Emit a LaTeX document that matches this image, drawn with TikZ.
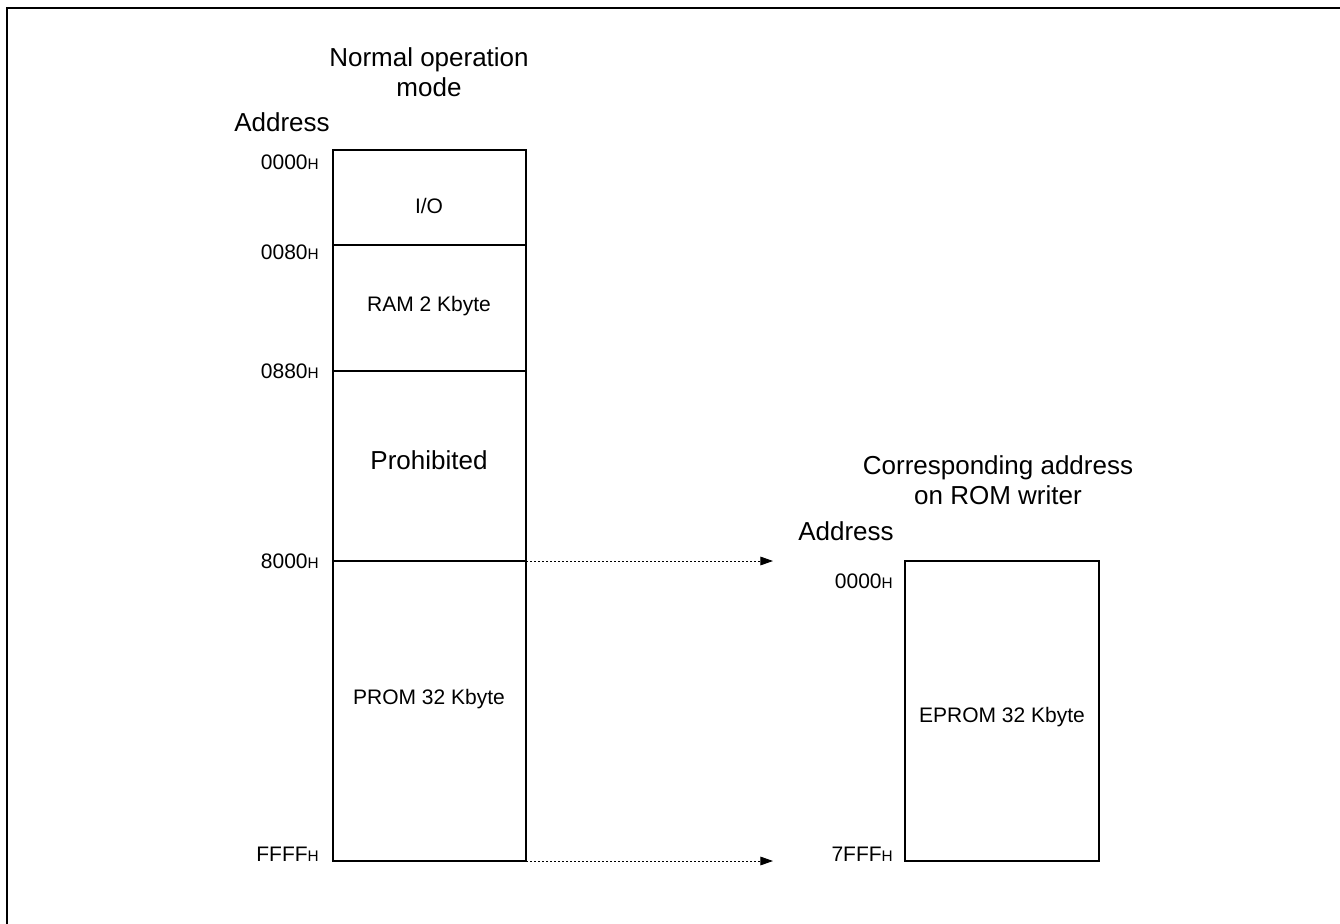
\documentclass[tikz,border=0pt]{standalone}
\usepackage{fontspec}
\setmainfont{Liberation Sans}
\usetikzlibrary{arrows.meta,positioning}
\newcommand{\hexaddr}[1]{#1{\fontsize{11.5}{12}\selectfont H}}
\tikzstyle{addr} = [anchor=base east,inner sep=0pt,font=\fontsize{15.75}{18}\selectfont]
\tikzstyle{area} = [anchor=base,inner sep=0pt,font=\fontsize{15.75}{18}\selectfont]
\tikzstyle{head} = [anchor=base,inner sep=0pt,align=center,font=\fontsize{19.5}{22.5}\selectfont]
\tikzstyle{map} = [line width=1.8pt]
\tikzstyle{split} = [line width=0.8pt]
\tikzstyle{link} = [line width=0.75pt,dash pattern=on 1.5pt off 1.5pt,-{Triangle[length=9.5pt,width=6.5pt]}]

\begin{document}
\begin{tikzpicture}[x=0.75pt,y=-0.75pt]
	\useasboundingbox (0,0) rectangle (1340,924);
	\draw[line width=2pt] (1360,8) -- (7,8) -- (7,940);

	% normal operation mode
	\node[head] (normal) at (429,97) {Normal operation\\mode};
	\node[head,anchor=base west] (addrL) at (234,132) {Address};
	\coordinate (lnw) at (333,150);
	\coordinate (lse) at (526,861);
	\coordinate (l8000) at (526,561);
	\draw[map] (lnw) rectangle (lse);
	\draw[split] (333,245) -- (526,245) (333,371) -- (526,371) (333,561) -- (l8000);
	\node[addr] (a0000) at (319,170) {\hexaddr{0000}};
	\node[addr] (a0080) at (319,259) {\hexaddr{0080}};
	\node[addr] (a0880) at (319,378) {\hexaddr{0880}};
	\node[addr] (a8000) at (319,568) {\hexaddr{8000}};
	\node[addr] (aFFFF) at (319,861) {\hexaddr{FFFF}};
	\node[area] (io) at (429,213) {I/O};
	\node[area] (ram) at (429,311) {RAM 2 Kbyte};
	\node[head] (prohib) at (429,469) {Prohibited};
	\node[area] (prom) at (429,704) {PROM 32 Kbyte};

	% ROM writer
	\node[head] (writer) at (998,504) {Corresponding address\\on ROM writer};
	\node[head,anchor=base west] (addrR) at (798,540) {Address};
	\coordinate (rnw) at (905,561);
	\coordinate (rse) at (1099,861);
	\draw[map] (rnw) rectangle (rse);
	\node[addr] (b0000) at (893,588) {\hexaddr{0000}};
	\node[addr] (b7FFF) at (893,861) {\hexaddr{7FFF}};
	\node[area] (eprom) at (1002,722) {EPROM 32 Kbyte};

	\coordinate (tip1) at (773,561);
	\coordinate (tip2) at (773,861);
	\draw[link] (l8000) -- (tip1);
	\draw[link] (lse) -- (tip2);
\end{tikzpicture}
\end{document}
